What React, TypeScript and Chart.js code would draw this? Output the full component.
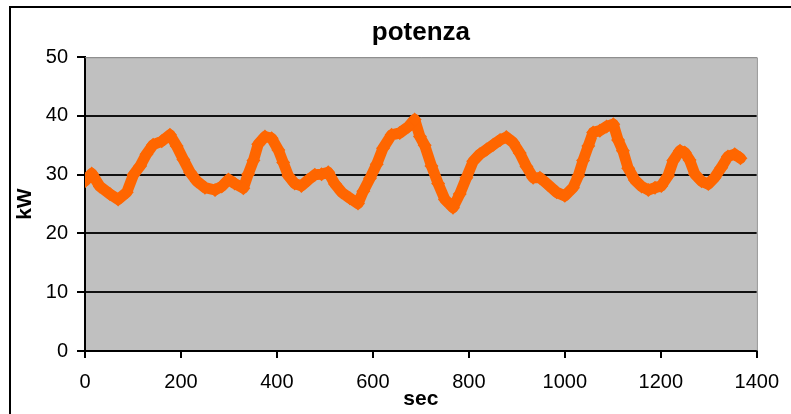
import React, { useEffect, useRef } from "react";
import { Chart, registerables } from "chart.js";

Chart.register(...registerables);

// Time in seconds and power in kW
const seconds = [
  0, 14, 31, 52, 69, 87, 101, 115, 128, 142, 160, 177, 191, 205, 219, 233,
  250, 271, 285, 299, 312, 330, 340, 351, 361, 375, 389, 403, 413, 424, 437,
  451, 465, 479, 493, 507, 521, 535, 552, 569, 580, 594, 608, 621, 639, 656,
  674, 687, 698, 708, 722, 736, 750, 767, 781, 795, 809, 823, 837, 851, 865,
  878, 892, 906, 920, 934, 948, 965, 983, 1000, 1017, 1028, 1038, 1049, 1059,
  1073, 1087, 1101, 1111, 1121, 1132, 1146, 1160, 1174, 1188, 1201, 1215,
  1226, 1240, 1250, 1260, 1271, 1285, 1299, 1312, 1326, 1340, 1354, 1366,
];
const power = [
  28.9, 30.2, 28.0, 26.7, 25.8, 27.0, 30.0, 31.5, 33.5, 35.1, 35.7, 36.8, 34.9,
  32.6, 30.4, 28.9, 27.8, 27.4, 28.0, 29.2, 28.5, 27.7, 30.1, 32.4, 35.2, 36.5,
  36.2, 34.2, 32.1, 29.8, 28.5, 28.1, 29.1, 30.0, 30.1, 30.4, 28.4, 27.0, 26.0,
  25.1, 27.2, 29.4, 31.8, 34.5, 36.8, 37.1, 38.2, 39.4, 36.5, 35.0, 31.5, 28.5,
  25.8, 24.4, 26.7, 29.5, 32.3, 33.5, 34.3, 35.1, 35.9, 36.4, 35.5, 33.7, 31.4,
  29.5, 29.5, 28.3, 27.0, 26.4, 27.8, 29.8, 32.4, 34.9, 37.2, 37.5, 38.2, 38.6,
  35.9, 34.1, 31.1, 29.1, 28.0, 27.4, 27.8, 28.1, 29.8, 32.4, 34.1, 33.8, 32.5,
  30.1, 28.9, 28.4, 29.5, 31.2, 33.1, 33.5, 32.8,
];

const chartTitle = "potenza";
const xTitle = "sec";
const yTitle = "kW";
const xMin = 0;
const xMax = 1400;
const xStep = 200;
const yMin = 0;
const yMax = 50;
const yStep = 10;

const FONT = "'Liberation Sans', Arial, Helvetica, sans-serif";

const decorPlugin = {
  id: "decor",
  beforeDraw(chart: any) {
    const { ctx, chartArea } = chart;
    ctx.save();
    ctx.fillStyle = "#ffffff";
    ctx.fillRect(0, 0, chart.width, chart.height);
    ctx.fillStyle = "#c0c0c0";
    ctx.fillRect(
      chartArea.left,
      chartArea.top,
      chartArea.right - chartArea.left,
      chartArea.bottom - chartArea.top
    );
    // outer frame (clipped at right / bottom)
    ctx.strokeStyle = "#000000";
    ctx.lineWidth = 2;
    ctx.beginPath();
    ctx.moveTo(10, chart.height + 2);
    ctx.lineTo(10, 7);
    ctx.lineTo(chart.width + 2, 7);
    ctx.stroke();
    ctx.restore();
  },
  beforeDatasetsDraw(chart: any) {
    const { ctx, chartArea } = chart;
    ctx.save();
    ctx.strokeStyle = "#808080";
    ctx.lineWidth = 1;
    ctx.beginPath();
    ctx.moveTo(chartArea.left, chartArea.top + 0.5);
    ctx.lineTo(chartArea.right + 0.5, chartArea.top + 0.5);
    ctx.lineTo(chartArea.right + 0.5, chartArea.bottom);
    ctx.stroke();
    ctx.restore();
  },
};

export default function App() {
  const ref = useRef<HTMLCanvasElement | null>(null);

  useEffect(() => {
    if (!ref.current) return;
    const data = seconds.map((s, i) => ({ x: s, y: power[i] }));
    const chart = new Chart(ref.current, {
      type: "line",
      data: {
        datasets: [
          {
            label: "potenza",
            data,
            borderColor: "#ff6600",
            backgroundColor: "#ff6600",
            borderWidth: 11,
            borderJoinStyle: "round",
            borderCapStyle: "round",
            pointStyle: "rectRot",
            pointRadius: 7,
            pointBorderWidth: 0,
            pointBackgroundColor: "#ff6600",
            tension: 0,
            fill: false,
          },
        ],
      },
      options: {
        responsive: false,
        animation: false,
        devicePixelRatio: 1,
        layout: { padding: { top: 0, left: 0, right: 34, bottom: 0 } },
        plugins: {
          legend: { display: false },
          tooltip: { enabled: false },
          title: {
            display: true,
            text: chartTitle,
            fullSize: false,
            color: "#000000",
            font: { family: FONT, size: 26, weight: "bold" },
            padding: { top: 17, bottom: 9 },
          },
        },
        scales: {
          x: {
            type: "linear",
            min: xMin,
            max: xMax,
            afterFit: (s: any) => {
              s.height = 63;
            },
            ticks: {
              stepSize: xStep,
              color: "#000000",
              padding: 12,
              maxRotation: 0,
              font: { family: FONT, size: 20 },
              callback: (v: any) => String(v),
            },
            grid: {
              drawOnChartArea: false,
              drawTicks: true,
              tickLength: 7,
              color: "#000000",
              tickColor: "#000000",
              lineWidth: 2,
            },
            border: { display: true, color: "#000000", width: 2 },
            title: {
              display: true,
              text: xTitle,
              color: "#000000",
              font: { family: FONT, size: 21, weight: "bold" },
              padding: { top: 0, bottom: 2 },
            },
          },
          y: {
            type: "linear",
            min: yMin,
            max: yMax,
            afterFit: (s: any) => {
              s.width = 85;
            },
            ticks: {
              stepSize: yStep,
              color: "#000000",
              padding: 9,
              font: { family: FONT, size: 20 },
              callback: (v: any) => String(v),
            },
            grid: {
              drawTicks: true,
              tickLength: 8,
              color: (c: any) =>
                c.tick && c.tick.value === yMax ? "rgba(0,0,0,0)" : "#111111",
              tickColor: "#000000",
              lineWidth: 2,
            },
            border: { display: true, color: "#000000", width: 2 },
            title: {
              display: true,
              text: yTitle,
              color: "#000000",
              font: { family: FONT, size: 21, weight: "bold" },
              padding: { top: 13, bottom: 0 },
            },
          },
        },
      },
      plugins: [decorPlugin],
    });
    return () => chart.destroy();
  }, []);

  return (
    <div style={{ position: "fixed", left: 0, top: 0, width: 791, height: 414 }}>
      <canvas ref={ref} width={791} height={414} style={{ display: "block" }} />
    </div>
  );
}
